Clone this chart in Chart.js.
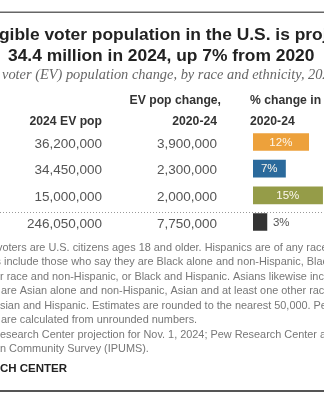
<!DOCTYPE html>
<html>
<head>
<meta charset="utf-8">
<script src="https://cdn.jsdelivr.net/npm/chart.js@4.4.1/dist/chart.umd.min.js"></script>
<style>
    html, body { margin: 0; padding: 0; background: #fff; overflow: hidden; }
    #wrap { width: 324px; height: 400px; }
</style>
</head>
<body>
<div id="wrap"><canvas id="chart" width="324" height="400"></canvas></div>
<script>
// Datos del gráfico
const groups = ['Hispanic', 'Black', 'Asian', 'All eligible voters'];
const evPop2024 = [36200000, 34450000, 15000000, 246050000];
const evChange = [3900000, 2300000, 2000000, 7750000];
const pctChange = [12, 7, 15, 3];
const pctLabels = ['12%', '7%', '15%', '3%'];

const barColors = ['#eda13b', '#2b6a9c', '#959c48', '#333333'];

const noteLines = [
    ['Note: Eligible ', 'voters are U.S. citizens ages 18 and older. Hispanics are of any race. Black eligible voters', -3],
    ['voters ', 'include those who say they are Black alone and non-Hispanic, Black and at least one', 4],
    ['othe', 'r race and non-Hispanic, or Black and Hispanic. Asians likewise include those who', 0],
    ['say they ', 'are Asian alone and non-Hispanic, Asian and at least one other race and non-Hispanic, or', 1],
    ['A', 'sian and Hispanic. Estimates are rounded to the nearest 50,000. Percent changes', 0],
    ['changes ', 'are calculated from unrounded numbers.', 1],
    ['Source: Pew R', 'esearch Center projection for Nov. 1, 2024; Pew Research Center analysis of', 0],
    ['America', 'n Community Survey (IPUMS).', 0]
];

const fmt = new Intl.NumberFormat('en-US');

// texto que empieza fuera del lienzo: la parte oculta queda a la izquierda
const textFrom = (ctx, hidden, visible, x, y) => {
    const w = hidden ? ctx.measureText(hidden).width : 0;
    ctx.fillText(hidden + visible, x - w, y);
};

const tablePlugin = {
    id: 'tableText',
    afterDraw(chart) {
        const ctx = chart.ctx;
        const yScale = chart.scales.y;
        ctx.save();

        // top and bottom rules
        ctx.fillStyle = '#666';
        ctx.fillRect(0, 11.5, 324, 1.5);
        ctx.fillStyle = '#555';
        ctx.fillRect(0, 390, 324, 2);

        // title
        ctx.fillStyle = '#222';
        ctx.textAlign = 'left';
        ctx.textBaseline = 'alphabetic';
        ctx.font = 'bold 17.4px "Liberation Sans", Arial, sans-serif';
        textFrom(ctx, 'Black eli', 'gible voter population in the U.S. is projected to reach', -1, 40);
        ctx.fillText('34.4 million in 2024, up 7% from 2020', 8, 61);

        // subtitle
        ctx.fillStyle = '#666';
        ctx.font = 'italic 14.4px "Liberation Serif", Georgia, serif';
        textFrom(ctx, 'Eligible ', 'voter (EV) population change, by race and ethnicity, 2020-24', 2, 79);

        // column headers
        ctx.fillStyle = '#333';
        ctx.font = 'bold 12.2px "Liberation Sans", Arial, sans-serif';
        ctx.textAlign = 'right';
        ctx.fillText('2024 EV pop', 102, 125);
        ctx.fillText('EV pop change,', 221, 104);
        ctx.fillText('2020-24', 217, 125);
        ctx.textAlign = 'left';
        ctx.fillText('% change in EV pop,', 250, 104);
        ctx.fillText('2020-24', 250, 125);

        // table values
        ctx.fillStyle = '#555';
        ctx.font = '13.5px "Liberation Sans", Arial, sans-serif';
        ctx.textAlign = 'right';
        ctx.textBaseline = 'middle';
        groups.forEach((g, i) => {
            const y = yScale.getPixelForValue(i) + 2;
            ctx.fillText(fmt.format(evPop2024[i]), 102, y);
            ctx.fillText(fmt.format(evChange[i]), 217, y);
        });

        // dotted separator above the total row
        const ySep = Math.round(yScale.getPixelForValue(3) - 10) + 0.5;
        ctx.strokeStyle = '#999';
        ctx.lineWidth = 1;
        ctx.setLineDash([1, 2]);
        ctx.beginPath();
        ctx.moveTo(0, ySep);
        ctx.lineTo(324, ySep);
        ctx.stroke();
        ctx.setLineDash([]);

        // notes
        ctx.textAlign = 'left';
        ctx.textBaseline = 'alphabetic';
        ctx.fillStyle = '#777';
        ctx.font = '10.9px "Liberation Sans", Arial, sans-serif';
        noteLines.forEach(([hidden, visible, x], i) => {
            textFrom(ctx, hidden, visible, x, 251 + i * 14.45);
        });

        ctx.fillStyle = '#222';
        ctx.font = 'bold 11.5px "Liberation Sans", Arial, sans-serif';
        textFrom(ctx, 'PEW RESEAR', 'CH CENTER', 0, 372);

        ctx.restore();
    }
};

const barLabels = {
    id: 'barLabels',
    afterDatasetsDraw(chart) {
        const ctx = chart.ctx;
        const meta = chart.getDatasetMeta(0);
        ctx.save();
        ctx.font = '11.5px "Liberation Sans", Arial, sans-serif';
        ctx.textBaseline = 'middle';
        meta.data.forEach((bar, i) => {
            const { x, y, base } = bar.getProps(['x', 'y', 'base'], true);
            if (i < 3) {
                ctx.fillStyle = '#fdf8ee';
                ctx.textAlign = 'center';
                ctx.fillText(pctLabels[i], (x + base) / 2, y + 0.5);
            } else {
                ctx.fillStyle = '#555';
                ctx.textAlign = 'left';
                ctx.fillText(pctLabels[i], x + 6, y + 0.5);
            }
        });
        ctx.restore();
    }
};

new Chart(document.getElementById('chart'), {
    type: 'bar',
    data: {
        labels: groups,
        datasets: [
            {
                data: pctChange,
                backgroundColor: barColors,
                borderWidth: 0,
                barThickness: 17
            }
        ]
    },
    options: {
        indexAxis: 'y',
        responsive: false,
        animation: false,
        devicePixelRatio: 1,
        layout: {
            padding: { left: 253, right: 0, top: 128.67, bottom: 164.67 }
        },
        plugins: {
            legend: { display: false },
            tooltip: { enabled: false }
        },
        scales: {
            x: { display: false, min: 0, max: 15.3 },
            y: { display: false }
        }
    },
    plugins: [tablePlugin, barLabels]
});
</script>
</body>
</html>
